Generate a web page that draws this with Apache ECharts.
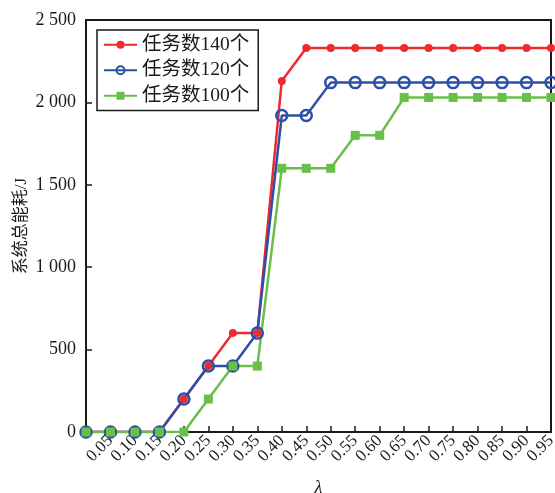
<!DOCTYPE html>
<html>
<head>
<meta charset="utf-8">
<script src="https://cdn.jsdelivr.net/npm/echarts@6/dist/echarts.min.js"></script>
<style>html,body{margin:0;padding:0;background:#fff}#c{width:555px;height:493px}</style>
</head>
<body>
<div id="c"></div>
<script>
const categories = ['0','0.05','0.10','0.15','0.20','0.25','0.30','0.35','0.40','0.45','0.50','0.55','0.60','0.65','0.70','0.75','0.80','0.85','0.90','0.95'];
const seriesNames = ['任务数140个','任务数120个','任务数100个'];
const tasks140 = [0,0,0,0,200,400,600,600,2130,2330,2330,2330,2330,2330,2330,2330,2330,2330,2330,2330];
const tasks120 = [0,0,0,0,200,400,400,600,1920,1920,2120,2120,2120,2120,2120,2120,2120,2120,2120,2120];
const tasks100 = [0,0,0,0,0,200,400,400,1600,1600,1600,1800,1800,2030,2030,2030,2030,2030,2030,2030];
const yTicks = [0,500,1000,1500,2000,2500];

const serif = "'Liberation Serif','Noto Sans CJK SC',serif";
const RED = '#ee2a2f', BLUE = '#2c50a6', GREEN = '#69bf47';
const chart = echarts.init(document.getElementById('c'));
chart.setOption({
  animation: false,
  backgroundColor: '#fff',
  grid: { left: 86, right: 4, top: 20, bottom: 61, show: true, borderColor: '#1a1a1a', borderWidth: 2,
    containLabel: false, outerBoundsMode: 'none' },
  legend: {
    orient: 'vertical', left: 97, top: 30,
    padding: [5, 9, 5, 6],
    borderColor: '#1a1a1a', borderWidth: 1.5, backgroundColor: '#fff',
    itemWidth: 33, itemHeight: 10, itemGap: 6,
    textStyle: { fontFamily: serif, fontSize: 19.5, color: '#1a1a1a' },
    data: seriesNames
  },
  xAxis: {
    type: 'category', data: categories, boundaryGap: false,
    name: 'λ', nameLocation: 'middle', nameGap: 47, nameMoveOverlap: false,
    nameTextStyle: { fontFamily: serif, fontStyle: 'italic', fontSize: 18, color: '#1a1a1a' },
    axisLine: { lineStyle: { color: '#1a1a1a', width: 2 } },
    axisTick: { inside: true, length: 6, alignWithLabel: true, lineStyle: { color: '#1a1a1a', width: 1.5 } },
    axisLabel: { rotate: 45, margin: 6, fontFamily: serif, fontSize: 17, color: '#1a1a1a',
      interval: 0, formatter: v => v === '0' ? '' : v },
    splitLine: { show: false }
  },
  yAxis: {
    type: 'value', min: 0, max: 2500, interval: 500,
    name: '系统总能耗/J', nameLocation: 'middle', nameGap: 56, nameMoveOverlap: false,
    nameTextStyle: { fontFamily: serif, fontSize: 17, color: '#1a1a1a' },
    axisLine: { show: true, lineStyle: { color: '#1a1a1a', width: 2 } },
    axisTick: { show: true, inside: true, length: 6, lineStyle: { color: '#1a1a1a', width: 1.5 } },
    axisLabel: { margin: 10, fontFamily: serif, fontSize: 18, color: '#1a1a1a',
      formatter: v => yTicks.includes(v) ? (v >= 1000 ? Math.floor(v/1000) + ' ' + String(v % 1000).padStart(3,'0') : String(v)) : '' },
    splitLine: { show: false }
  },
  series: [
    { name: seriesNames[0], type: 'line', data: tasks140, symbol: 'circle', symbolSize: 8,
      itemStyle: { color: RED }, lineStyle: { color: RED, width: 2.5 } },
    { name: seriesNames[1], type: 'line', data: tasks120, symbol: 'circle', symbolSize: 11,
      itemStyle: { color: 'rgba(255,255,255,0)', borderColor: BLUE, borderWidth: 2.5 }, lineStyle: { color: BLUE, width: 2.5 } },
    { name: seriesNames[2], type: 'line', data: tasks100, symbol: 'rect', symbolSize: 9,
      itemStyle: { color: GREEN }, lineStyle: { color: GREEN, width: 2.5 } }
  ]
});
</script>
</body>
</html>
